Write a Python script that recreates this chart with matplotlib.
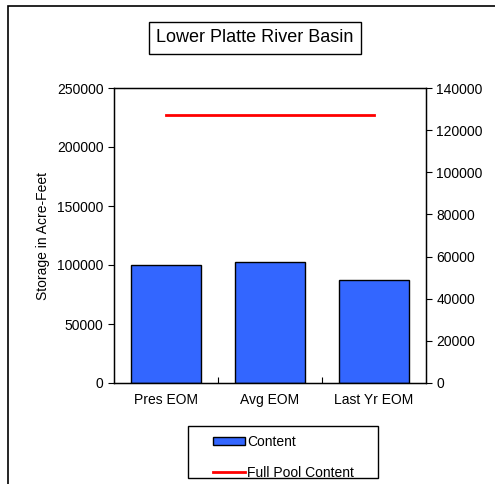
import matplotlib.pyplot as plt
from matplotlib.patches import Rectangle

plt.rcParams['font.family'] = ['Liberation Sans', 'DejaVu Sans']

categories = ['Pres EOM', 'Avg EOM', 'Last Yr EOM']
content = [100000, 102300, 87000]
full_pool = 227000
left_ticks = [0, 50000, 100000, 150000, 200000, 250000]
right_ticks = [0, 20000, 40000, 60000, 80000, 100000, 120000, 140000]

fig = plt.figure(figsize=(4.95, 4.84), dpi=100)
# outer chart border
fig.patches.append(Rectangle((8 / 495, -0.05), 1.5, 1 - 6 / 484 + 0.05,
                             transform=fig.transFigure, fill=False,
                             edgecolor='black', linewidth=1.2))

ax = fig.add_axes([114 / 495, 1 - 383 / 484, 312 / 495, 295 / 484])
x = range(len(categories))
bars = ax.bar(x, content, width=0.67, color='#3366ff', edgecolor='black',
              linewidth=1, label='Content', zorder=2)
line, = ax.plot([0, 2], [full_pool, full_pool], color='red', linewidth=2,
                label='Full Pool Content', zorder=3)

ax.set_xlim(-0.5, 2.5)
ax.set_ylim(0, 250000)
ax.set_yticks(left_ticks)
ax.set_yticklabels([str(t) for t in left_ticks], fontsize=10)
ax.set_xticks([0.5, 1.5])
ax.set_xticklabels([])
ax.tick_params(axis='x', direction='in', length=4, width=0.8)
ax.tick_params(axis='y', direction='out', length=4, width=0.8)
for i, c in enumerate(categories):
    ax.text(i, -0.035, c, transform=ax.get_xaxis_transform(), ha='center',
            va='top', fontsize=10)
ax.set_ylabel('Storage in Acre-Feet', fontsize=10, labelpad=5)
for s in ax.spines.values():
    s.set_linewidth(1)

ax2 = ax.twinx()
ax2.set_ylim(0, 140000)
ax2.set_yticks(right_ticks)
ax2.set_yticklabels([str(t) for t in right_ticks], fontsize=10)
ax2.tick_params(axis='y', direction='out', length=4, width=0.8)

fig.text(255 / 495, 1 - 38 / 484, 'Lower Platte River Basin', ha='center',
         va='center', fontsize=13,
         bbox=dict(boxstyle='square,pad=0.4', facecolor='white',
                   edgecolor='black', linewidth=1))

# legend frame drawn separately to match the wide side padding
fig.patches.append(Rectangle((188 / 495, 1 - 478 / 484), 190 / 495, 52 / 484,
                             transform=fig.transFigure, facecolor='white',
                             edgecolor='black', linewidth=1))
leg = fig.legend([bars, line], ['Content', 'Full Pool Content'],
                 loc='upper left', bbox_to_anchor=(202 / 495, 1 - 424 / 484),
                 fontsize=10, frameon=False, handlelength=2.3,
                 handleheight=0.45, borderpad=0.3, labelspacing=1.2,
                 handletextpad=0.15)

fig.savefig('out.png', dpi=100)
